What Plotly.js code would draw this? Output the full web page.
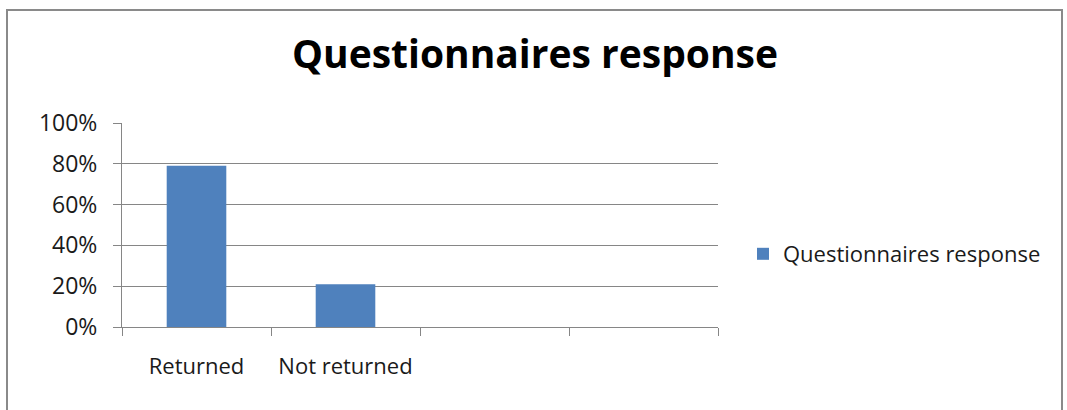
<!DOCTYPE html>
<html>
<head>
<meta charset="utf-8">
<script src="https://cdn.plot.ly/plotly-3.0.1.min.js"></script>
<style>
  html, body { margin: 0; padding: 0; background: #ffffff; }
  #wrap { position: relative; width: 1067px; height: 410px; overflow: hidden; }
  #frame { position: absolute; left: 6px; top: 9px; width: 1057px; height: 420px;
           border: 2px solid #8a8a8a; box-sizing: border-box; }
  #chart { position: absolute; left: 0; top: 0; width: 1067px; height: 410px; }
</style>
</head>
<body>
<div id="wrap">
  <div id="frame"></div>
  <div id="chart"></div>
</div>
<script>
// Survey return rates; the last two category slots are left blank
const categories = ["Returned", "Not returned", " ", "  "];
const responseShare = [0.79, 0.21, null, null];
const seriesName = "Questionnaires response";
const chartTitle = "Questionnaires response";

const FONT = "Open Sans, Noto Sans, sans-serif";
const TEXT = "#1a1a1a";
const LINE = "#868686";

const traces = [{
  type: "bar",
  x: categories,
  y: responseShare,
  name: seriesName,
  marker: { color: "#4f81bd" },
  showlegend: true,
  hoverinfo: "x+y"
}];

const layout = {
  width: 1067,
  height: 410,
  paper_bgcolor: "rgba(0,0,0,0)",
  plot_bgcolor: "rgba(0,0,0,0)",
  margin: { l: 122, r: 349, t: 123, b: 83 },
  font: { family: FONT, color: TEXT, size: 22 },
  title: {
    text: "<b>" + chartTitle + "</b>",
    font: { family: FONT, size: 39, color: "#000000" },
    x: 535 / 1067, xref: "container", xanchor: "center",
    y: 1 - 54 / 410, yref: "container", yanchor: "middle"
  },
  bargap: 0.6,
  xaxis: {
    type: "category",
    range: [-0.5, 3.5],
    tickson: "boundaries",
    ticks: "outside",
    ticklen: 8,
    tickcolor: LINE,
    showline: true,
    linecolor: LINE,
    linewidth: 1,
    showgrid: false,
    zeroline: false,
    tickfont: { family: FONT, size: 22, color: TEXT },
    ticklabelstandoff: 20,
    fixedrange: true
  },
  yaxis: {
    range: [0, 1],
    tickmode: "linear",
    tick0: 0,
    dtick: 0.2,
    tickformat: ".0%",
    ticks: "outside",
    ticklen: 8,
    tickcolor: LINE,
    showline: true,
    linecolor: LINE,
    linewidth: 1,
    showgrid: true,
    gridcolor: LINE,
    gridwidth: 1,
    zeroline: false,
    tickfont: { family: FONT, size: 23, color: TEXT },
    ticklabelstandoff: 11,
    fixedrange: true
  },
  showlegend: true,
  legend: {
    x: (743 - 122) / 596, xanchor: "left",
    y: (327 - 254) / 204, yanchor: "middle",
    font: { family: FONT, size: 22, color: TEXT },
    bgcolor: "rgba(0,0,0,0)",
    itemwidth: 30
  }
};

Plotly.newPlot("chart", traces, layout, { displayModeBar: false, staticPlot: true });
</script>
</body>
</html>
